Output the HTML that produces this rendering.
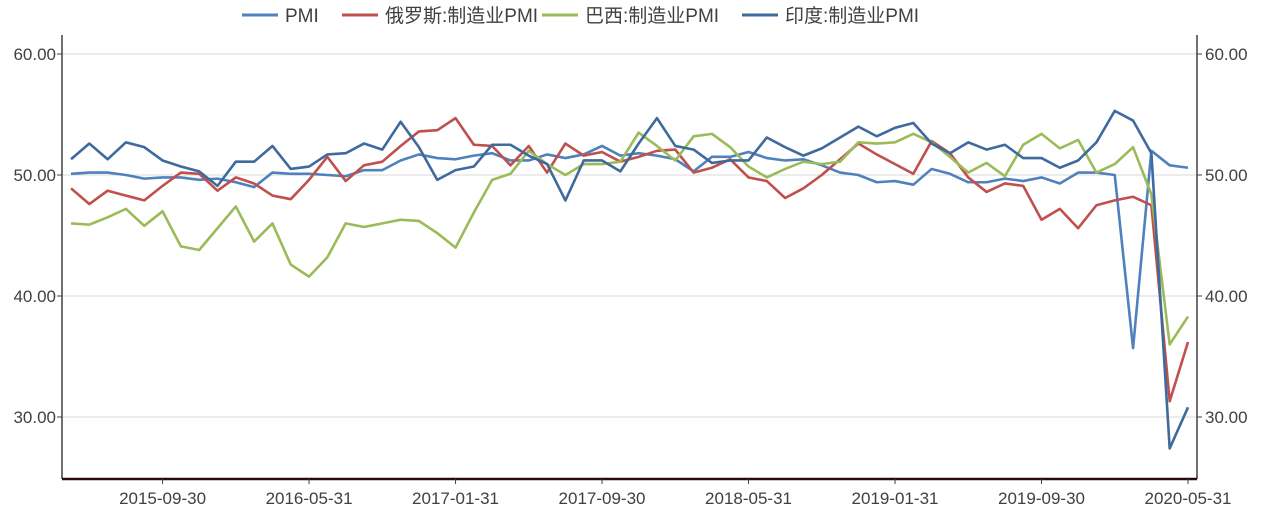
<!DOCTYPE html>
<html><head><meta charset="utf-8"><style>
body{margin:0;background:#fff;font-family:"Liberation Sans","Noto Sans CJK SC",sans-serif;}
</style></head><body>
<svg id="c" width="1267" height="513" xmlns="http://www.w3.org/2000/svg"></svg>
<script>
const dates=["2015-09-30","2016-05-31","2017-01-31","2017-09-30","2018-05-31","2019-01-31","2019-09-30","2020-05-31"];
const dateIdx=[5,13,21,29,37,45,53,61];
const yTicks=[30,40,50,60];
const seriesNames=["PMI","俄罗斯:制造业PMI","巴西:制造业PMI","印度:制造业PMI"];
const colors=["#4f81bd","#c0504d","#9bbb59","#3e6a9e"];
const pmi=[50.1,50.2,50.2,50.0,49.7,49.8,49.8,49.6,49.7,49.4,49.0,50.2,50.1,50.1,50.0,49.9,50.4,50.4,51.2,51.7,51.4,51.3,51.6,51.8,51.2,51.2,51.7,51.4,51.7,52.4,51.6,51.8,51.6,51.3,50.3,51.5,51.5,51.9,51.4,51.2,51.3,50.8,50.2,50.0,49.4,49.5,49.2,50.5,50.1,49.4,49.4,49.7,49.5,49.8,49.3,50.2,50.2,50.0,35.7,52.0,50.8,50.6];
const russia=[48.9,47.6,48.7,48.3,47.9,49.1,50.2,50.1,48.7,49.8,49.3,48.3,48.0,49.6,51.5,49.5,50.8,51.1,52.4,53.6,53.7,54.7,52.5,52.4,50.8,52.4,50.2,52.6,51.6,51.9,51.1,51.5,52.0,52.1,50.2,50.6,51.3,49.8,49.5,48.1,48.9,50.0,51.3,52.6,51.7,50.9,50.1,52.8,51.8,49.8,48.6,49.3,49.1,46.3,47.2,45.6,47.5,47.9,48.2,47.5,31.3,36.2];
const brazil=[46.0,45.9,46.5,47.2,45.8,47.0,44.1,43.8,45.6,47.4,44.5,46.0,42.6,41.6,43.2,46.0,45.7,46.0,46.3,46.2,45.2,44.0,46.9,49.6,50.1,52.0,50.9,50.0,50.9,50.9,51.1,53.5,52.4,51.2,53.2,53.4,52.3,50.7,49.8,50.5,51.1,50.9,51.1,52.7,52.6,52.7,53.4,52.7,51.5,50.2,51.0,49.9,52.5,53.4,52.2,52.9,50.2,50.9,52.3,48.4,36.0,38.3];
const india=[51.3,52.6,51.3,52.7,52.3,51.2,50.7,50.3,49.1,51.1,51.1,52.4,50.5,50.7,51.7,51.8,52.6,52.1,54.4,52.3,49.6,50.4,50.7,52.5,52.5,51.6,50.9,47.9,51.2,51.2,50.3,52.6,54.7,52.4,52.1,51.0,51.2,51.2,53.1,52.3,51.6,52.2,53.1,54.0,53.2,53.9,54.3,52.6,51.8,52.7,52.1,52.5,51.4,51.4,50.6,51.2,52.7,55.3,54.5,51.8,27.4,30.8];
const NS="http://www.w3.org/2000/svg";
const svg=document.getElementById('c');
const N=pmi.length;
const X=i=>71+i*(1188-71)/(N-1);
const Y=v=>175-(v-50)*12.1;
function mk(t,a,p){const e=document.createElementNS(NS,t);for(const k in a)e.setAttribute(k,a[k]);(p||svg).appendChild(e);return e;}
// grid
yTicks.forEach(v=>{
 const g=mk('line',{x1:62,x2:1197,y1:Y(v),y2:Y(v),stroke:'#d9d9d9','stroke-width':1});
 
 
 const l=mk('text',{x:56,y:Y(v)+6,'text-anchor':'end','font-size':17,fill:'#404040'});l.textContent=v.toFixed(2);
 
 
 const r=mk('text',{x:1205,y:Y(v)+6,'font-size':17,fill:'#404040'});r.textContent=v.toFixed(2);
 
 
 mk('line',{x1:57,x2:62,y1:Y(v),y2:Y(v),stroke:'#404040'});
 mk('line',{x1:1197,x2:1202,y1:Y(v),y2:Y(v),stroke:'#404040'});
});
const la=mk('line',{x1:62,x2:62,y1:35,y2:479,stroke:'#404040','stroke-width':1.5});


const ra=mk('line',{x1:1197,x2:1197,y1:35,y2:479,stroke:'#404040','stroke-width':1.5});


const xa=mk('line',{x1:62,x2:1197,y1:479,y2:479,stroke:'#2a0a0a','stroke-width':2.5});


dates.forEach((d,k)=>{
 const x=X(dateIdx[k]);
 mk('line',{x1:x,x2:x,y1:479,y2:484,stroke:'#404040'});
 const t=mk('text',{x:x,y:504,'text-anchor':'middle','font-size':17,fill:'#404040'});t.textContent=d;
 
 
});
[pmi,russia,brazil,india].forEach((s,k)=>{
 const p=mk('polyline',{points:s.map((v,i)=>X(i)+','+Y(v)).join(' '),fill:'none',stroke:colors[k],'stroke-width':2.6,'stroke-linejoin':'round'});
 
 
});
// legend
const lx=[242,342,542,742];
seriesNames.forEach((n,k)=>{
 const g=mk('g',{});
 
 
 mk('line',{x1:lx[k],x2:lx[k]+36,y1:15,y2:15,stroke:colors[k],'stroke-width':3},g);
 const t=mk('text',{x:lx[k]+43,y:22,'font-size':19,fill:'#404040'},g);t.textContent=n;
});
</script>
</body></html>
